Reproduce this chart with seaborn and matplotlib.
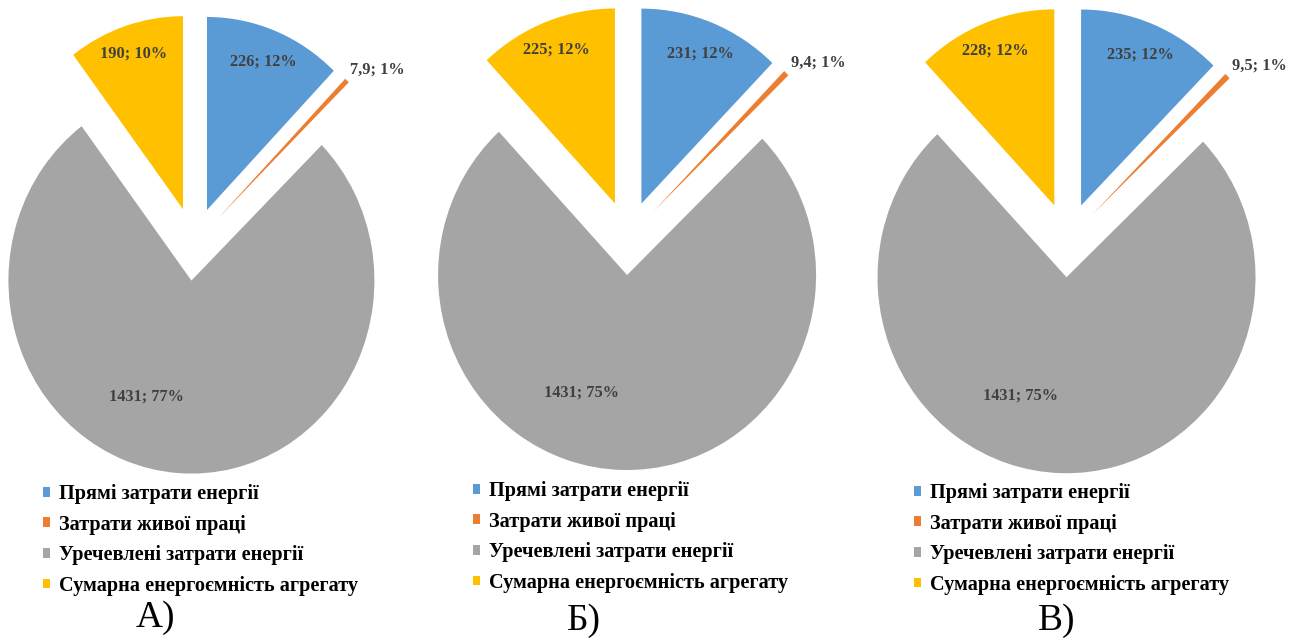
import numpy as np
import matplotlib
matplotlib.use("Agg")
import matplotlib.pyplot as plt
import seaborn as sns

# ---- data ----
categories = ["Прямі затрати енергії", "Затрати живої праці",
              "Уречевлені затрати енергії", "Сумарна енергоємність агрегату"]
values_a = [226, 7.9, 1431, 190]
values_b = [231, 9.4, 1431, 225]
values_c = [235, 9.5, 1431, 228]
pct_a = [12, 1, 77, 10]
pct_b = [12, 1, 75, 12]
pct_c = [12, 1, 75, 12]
panel_titles = ["А)", "Б)", "В)"]

colors = sns.color_palette(["#5B9BD5", "#ED7D31", "#A5A5A5", "#FFC000"])

sns.set_theme(style="white")
plt.rcParams["font.family"] = ["Liberation Serif", "DejaVu Serif"]

W, H = 1301, 639
fig = plt.figure(figsize=(W / 100, H / 100), dpi=100)
fig.patch.set_facecolor("white")

# layout (pixels, top-left origin): center x, center y, radius x, radius y
pies = [
    dict(vals=values_a, pct=pct_a, cx=194, cy=244, rx=183, ry=193,
         leg=(43, 484), title=(155, 618)),
    dict(vals=values_b, pct=pct_b, cx=628, cy=238, rx=189, ry=195,
         leg=(473, 481), title=(584, 621)),
    dict(vals=values_c, pct=pct_c, cx=1067.5, cy=240, rx=189, ry=196,
         leg=(914, 483), title=(1057, 621)),
]

L = 1.45
explode = [0.19] * 4
label_r = [0.83, 1.16, 0.65, 0.85]


def fmt(v):
    s = f"{v:g}"
    return s.replace(".", ",")


for i, p in enumerate(pies):
    left = (p["cx"] - L * p["rx"]) / W
    bottom = (H - (p["cy"] + L * p["ry"])) / H
    ax = fig.add_axes([left, bottom, 2 * L * p["rx"] / W, 2 * L * p["ry"] / H])
    ax.patch.set_alpha(0)
    wedges, _ = ax.pie(p["vals"], colors=colors, startangle=90, counterclock=False,
                       explode=explode, radius=1,
                       wedgeprops=dict(linewidth=0, antialiased=True))
    ax.set_aspect("auto")
    ax.set_xlim(-L, L)
    ax.set_ylim(-L, L)
    ax.axis("off")

    for j, w in enumerate(wedges):
        mid = (w.theta1 + w.theta2) / 2
        if j == 1:
            ang = mid - 4
        elif j == 2:
            ang = -112
        else:
            ang = mid
        cxw, cyw = w.center
        tx = cxw + label_r[j] * np.cos(np.radians(ang))
        ty = cyw + label_r[j] * np.sin(np.radians(ang))
        ax.text(tx, ty, f"{fmt(p['vals'][j])}; {p['pct'][j]}%",
                ha="center", va="center", fontsize=11.8, fontweight="bold",
                color="#404040")

    lx, ly = p["leg"]
    fig.legend(wedges, categories, loc="upper left",
               bbox_to_anchor=(lx / W, 1 - ly / H), frameon=False,
               borderpad=0, borderaxespad=0,
               prop=dict(weight="bold", size=14.6), labelcolor="black",
               handlelength=0.36, handleheight=0.36, handletextpad=0.45,
               labelspacing=0.52)

    tx, ty = p["title"]
    fig.text(tx / W, 1 - ty / H, panel_titles[i], ha="center", va="center",
             fontsize=27, color="black")

fig.savefig("out.png", dpi=100)
